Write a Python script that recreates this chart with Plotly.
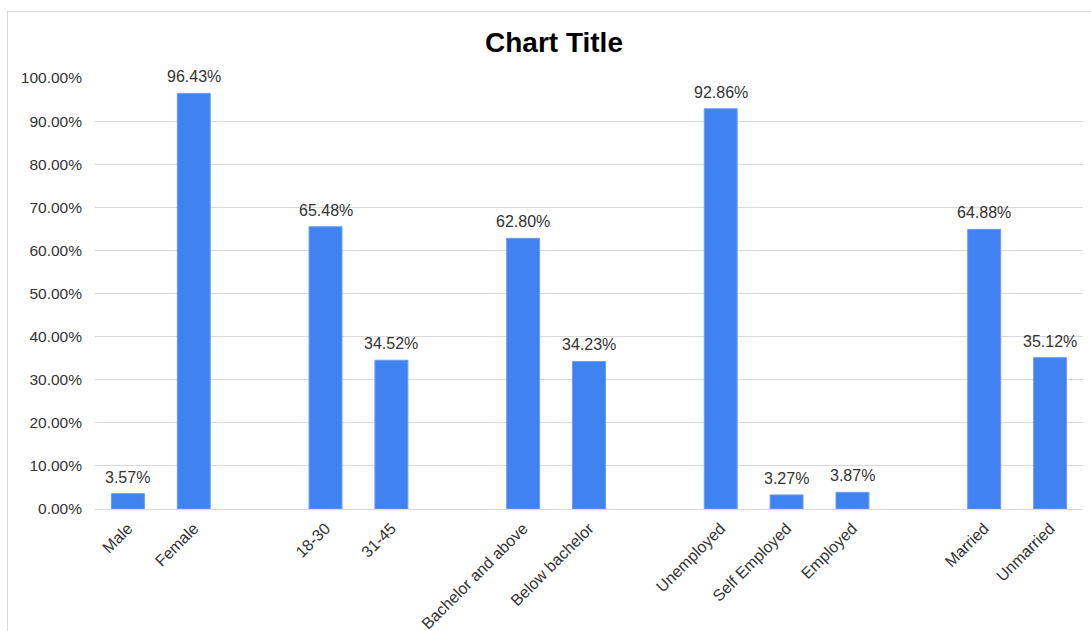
import plotly.graph_objects as go

# Data
groups = [
    ["Male", "Female"],
    ["18-30", "31-45"],
    ["Bachelor and above", "Below bachelor"],
    ["Unemployed", "Self Employed", "Employed"],
    ["Married", "Unmarried"],
]
values = [3.57, 96.43, 65.48, 34.52, 62.80, 34.23, 92.86, 3.27, 3.87, 64.88, 35.12]
y_ticks = [0, 10, 20, 30, 40, 50, 60, 70, 80, 90, 100]

# Positions: one empty slot between groups
labels, xpos = [], []
pos = 0
for g in groups:
    for lab in g:
        labels.append(lab)
        xpos.append(pos)
        pos += 1
    pos += 1
n_slots = pos - 1

W, H = 1091, 631
ml, mr, mt, mb = 95, 8, 78, 122
FONT = "Liberation Sans, Arial, sans-serif"

fig = go.Figure()
fig.add_trace(go.Bar(
    x=xpos, y=values,
    width=0.5,
    marker=dict(color="#3f82f0", line=dict(color="#6a9cf5", width=1)),
    hovertemplate="%{customdata}: %{y:.2f}%<extra></extra>",
    customdata=labels,
))

# Data labels above the bars
for x, v in zip(xpos, values):
    fig.add_annotation(x=x, y=v, xref="x", yref="y", text=f"{v:.2f}%",
                       showarrow=False, yanchor="bottom", xanchor="center", yshift=6,
                       font=dict(family=FONT, size=16, color="#333333"))

fig.update_layout(
    width=W, height=H,
    margin=dict(l=ml, r=mr, t=mt, b=mb),
    paper_bgcolor="white", plot_bgcolor="white",
    showlegend=False,
    title=dict(text="<b>Chart Title</b>", x=554 / W, xref="container", xanchor="center",
               y=1 - 42 / H, yref="container", yanchor="middle",
               font=dict(family=FONT, size=28, color="#000000")),
    font=dict(family=FONT, size=15.5, color="#333333"),
    bargap=0.5,
)
fig.update_xaxes(
    range=[-0.5, n_slots - 0.5],
    tickmode="array", tickvals=xpos, ticktext=labels,
    tickangle=-45, showgrid=False, zeroline=False, showline=False,
    ticks="", ticklabelstandoff=6, tickfont=dict(family=FONT, size=16, color="#333333"),
    automargin=False,
)
fig.update_yaxes(
    range=[0, 100],
    tickmode="array", tickvals=y_ticks,
    ticktext=[f"{t:.2f}%" for t in y_ticks],
    showgrid=True, gridcolor="#d9d9d9", gridwidth=1,
    zeroline=True, zerolinecolor="#d9d9d9", zerolinewidth=1,
    showline=False, ticks="", ticklabelstandoff=12,
    tickfont=dict(family=FONT, size=15.5, color="#333333"),
    automargin=False,
)

# Outer chart frame (top and left edges)
fig.add_shape(type="line", xref="paper", yref="paper",
              x0=(7 - ml) / (W - ml - mr), x1=(W - ml) / (W - ml - mr),
              y0=(H - mb - 11.5) / (H - mt - mb), y1=(H - mb - 11.5) / (H - mt - mb),
              line=dict(color="#d9d9d9", width=1))
fig.add_shape(type="line", xref="paper", yref="paper",
              x0=(7.5 - ml) / (W - ml - mr), x1=(7.5 - ml) / (W - ml - mr),
              y0=(-mb) / (H - mt - mb), y1=(H - mb - 11) / (H - mt - mb),
              line=dict(color="#d9d9d9", width=1))

fig.write_html("out.html", config={"displayModeBar": False},
               post_script="document.body.style.margin='0';document.body.style.overflow='hidden';")
